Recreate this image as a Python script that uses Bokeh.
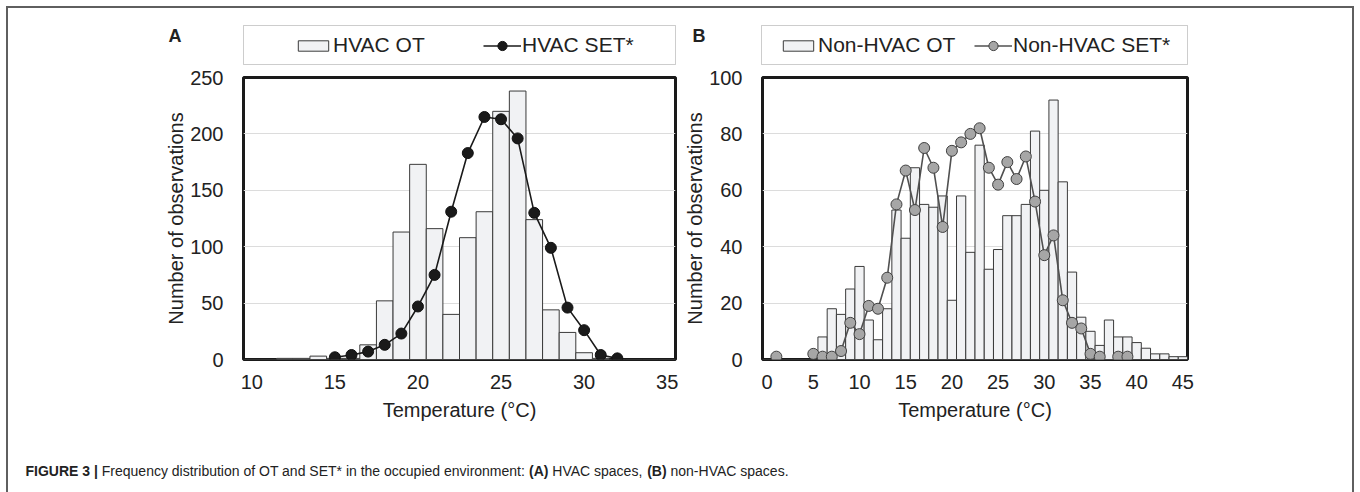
from bokeh.plotting import figure
from bokeh.models import (FixedTicker, Legend, LegendItem, Label, BoxAnnotation, Range1d)
from bokeh.layouts import row, column
from bokeh.embed import file_html
from bokeh.resources import INLINE

FONT = "Liberation Sans"
TXT = "#222222"

# ---------------- data ----------------
hvac_temp = list(range(10, 36))
hvac_ot = [0, 0, 1, 1, 3, 1, 1, 13, 52, 113, 173, 116, 40, 108, 131, 220, 238, 124, 44, 24, 6, 1, 0, 0, 0, 0]
hvac_set_temp = list(range(15, 33))
hvac_set = [2, 4, 7, 13, 23, 47, 75, 131, 183, 215, 213, 196, 130, 99, 46, 26, 4, 1]

non_temp = list(range(0, 46))
non_ot = [0, 0, 0, 0, 0, 0, 8, 18, 16, 25, 33, 14, 7, 18, 53, 43, 68, 55, 54, 58, 21, 58, 38, 76, 32,
          39, 51, 51, 55, 81, 60, 92, 63, 31, 15, 10, 5, 14, 8, 8, 6, 4, 2, 2, 1, 1]
non_set = [None, 1, None, None, None, 2, 1, 1, 3, 13, 9, 19, 18, 29, 55, 67, 53, 75, 68, 47, 74, 77, 80, 82,
           68, 62, 70, 64, 72, 56, 37, 44, 21, 13, 11, 2, 1, None, 1, 1, None, None, None, None, None, None]

hvac_xticks = [10, 15, 20, 25, 30, 35]
hvac_yticks = [0, 50, 100, 150, 200, 250]
non_xticks = [0, 5, 10, 15, 20, 25, 30, 35, 40, 45]
non_yticks = [0, 20, 40, 60, 80, 100]

legend_labels_a = ["HVAC OT", "HVAC SET*"]
legend_labels_b = ["Non-HVAC OT", "Non-HVAC SET*"]
caption_parts = [("FIGURE 3 |", "bold"),
                 ("Frequency distribution of OT and SET* in the occupied environment:", "normal"),
                 ("(A)", "bold"), ("HVAC spaces,", "normal"),
                 ("(B)", "bold"), ("non-HVAC spaces.", "normal")]

BAR_FILL = "#F1F2F4"
BAR_LINE = "#3a3a3a"
STYLE_A = dict(dot_fill="#1a1a1a", dot_line="#111111", line_col="#1a1a1a")
STYLE_B = dict(dot_fill="#A6A6A6", dot_line="#404040", line_col="#505050")

TOP_H = 57          # page y 8 .. 65
PANEL_H = 373       # page y 65 .. 438 ; plot frame page y 77 .. 359
CAP_H = 54


def make_panel(width, mb_left, mb_right, xr, yr, xticks, yticks, temps, ot, set_t, set_v, st):
    p = figure(width=width, height=PANEL_H, output_backend="svg", toolbar_location=None,
               x_range=Range1d(*xr), y_range=Range1d(*yr),
               min_border_left=mb_left, min_border_right=mb_right,
               min_border_top=12, min_border_bottom=PANEL_H - 12 - 282)
    p.background_fill_color = "white"
    p.border_fill_color = "white"
    p.outline_line_color = "#1a1a1a"
    p.outline_line_width = 3

    p.xgrid.visible = False
    p.ygrid.grid_line_color = "#DCDCDC"
    p.ygrid.grid_line_width = 1

    for ax in (p.xaxis[0], p.yaxis[0]):
        ax.axis_line_color = None
        ax.major_tick_line_color = None
        ax.minor_tick_line_color = None
        ax.major_tick_in = 0
        ax.major_tick_out = 0
        ax.major_label_text_font = FONT
        ax.major_label_text_font_size = "20px"
        ax.major_label_text_color = TXT
        ax.axis_label_text_font = FONT
        ax.axis_label_text_font_size = "20px"
        ax.axis_label_text_font_style = "normal"
        ax.axis_label_text_color = TXT
    p.xaxis.ticker = FixedTicker(ticks=xticks)
    p.yaxis.ticker = FixedTicker(ticks=yticks)
    p.xaxis.major_label_standoff = 15
    p.yaxis.major_label_standoff = 20
    p.xaxis.axis_label = "Temperature (°C)"
    p.yaxis.axis_label = "Number of observations"
    p.xaxis.axis_label_standoff = 7
    p.yaxis.axis_label_standoff = 0

    p.vbar(x=temps, top=ot, width=1, bottom=0, fill_color=BAR_FILL,
           line_color=BAR_LINE, line_width=1)
    yv = [float("nan") if v is None else v for v in set_v]
    p.line(x=set_t, y=yv, line_color=st["line_col"], line_width=1.6)
    pts_t = [t for t, v in zip(set_t, set_v) if v is not None]
    pts_v = [v for v in set_v if v is not None]
    p.scatter(x=pts_t, y=pts_v, size=11, fill_color=st["dot_fill"], line_color=st["dot_line"], line_width=1)
    return p


# panel A frame: page x 243..675 ; panel B frame: page x 761..1187
pA = make_panel(673, 235, 6, (9.5, 35.5), (0, 250), hvac_xticks, hvac_yticks,
                hvac_temp, hvac_ot, hvac_set_temp, hvac_set, STYLE_A)
pB = make_panel(671, 80, 165, (-0.5, 45.5), (0, 100), non_xticks, non_yticks,
                non_temp, non_ot, non_temp, non_set, STYLE_B)

# ---------------- top strip: panel letters + legends ----------------
pT = figure(width=1344, height=TOP_H, output_backend="svg", toolbar_location=None,
            x_axis_type=None, y_axis_type=None, min_border=0,
            x_range=Range1d(0, 1), y_range=Range1d(0, 1))
pT.outline_line_color = None
pT.xgrid.visible = False
pT.ygrid.visible = False

LEG_COMMON = dict(orientation="horizontal", padding=0, margin=0, glyph_width=38,
                  label_standoff=1, label_height=21, border_line_color=None,
                  background_fill_alpha=0, label_text_font=FONT, label_text_font_size="21px",
                  label_text_color=TXT, label_text_baseline="middle")


def legend_for(st, labels, temps, ot, set_t, set_v, vx_bar, vx_line):
    # legend proxies: the same series, drawn outside this strip's visible range
    bar = pT.vbar(x=temps[:1], top=ot[:1], width=1, fill_color=BAR_FILL, line_color=BAR_LINE, line_width=1)
    ln = pT.line(x=set_t[-2:], y=set_v[-2:], line_color=st["line_col"], line_width=1.6)
    dt = pT.scatter(x=set_t[-1:], y=set_v[-1:], size=11, fill_color=st["dot_fill"],
                    line_color=st["dot_line"], line_width=1)
    pT.add_layout(Legend(items=[LegendItem(label=labels[0], renderers=[bar])],
                         location=(vx_bar, 8), glyph_height=13, **LEG_COMMON), "center")
    pT.add_layout(Legend(items=[LegendItem(label=labels[1], renderers=[ln, dt])],
                         location=(vx_line, 8), glyph_height=23, **LEG_COMMON), "center")


legend_for(STYLE_A, legend_labels_a, hvac_temp, hvac_ot, hvac_set_temp, hvac_set, 286, 475)
legend_for(STYLE_B, legend_labels_b, non_temp, non_ot, non_temp[-3:-1], [1, 1], 771, 966)

for left, right in ((235, 667), (753, 1179)):
    pT.add_layout(BoxAnnotation(left=left, right=right, bottom=1, top=40,
                                left_units="screen", right_units="screen",
                                bottom_units="screen", top_units="screen",
                                fill_alpha=0, line_color="#595959", line_width=1, level="overlay"))
for letter, x in (("A", 160), ("B", 684)):
    pT.add_layout(Label(x=x, y=40, x_units="screen", y_units="screen", text=letter,
                        text_font=FONT, text_font_style="bold", text_font_size="18px",
                        text_color=TXT, text_baseline="top"))

# ---------------- caption ----------------
pC = figure(width=1344, height=CAP_H, output_backend="svg", toolbar_location=None,
            x_axis_type=None, y_axis_type=None, min_border=0,
            x_range=Range1d(0, 1), y_range=Range1d(0, 1))
pC.outline_line_color = None
pC.xgrid.visible = False
pC.ygrid.visible = False
cap_x = [17, 93.3, 520.5, 543.8, 638.7, 662.0]
for (txt, style), x in zip(caption_parts, cap_x):
    pC.add_layout(Label(x=x, y=22, x_units="screen", y_units="screen", text=txt,
                        text_font=FONT, text_font_style=style, text_font_size="14px",
                        text_color=TXT, text_baseline="middle"))

layout = column(pT, row(pA, pB), pC, margin=(6, 0, 0, 6),
                styles={"border-top": "2px solid #5f5f5f", "border-left": "2px solid #5f5f5f",
                        "border-right": "2px solid #5f5f5f"})

open("out.html", "w").write(file_html(layout, INLINE))
